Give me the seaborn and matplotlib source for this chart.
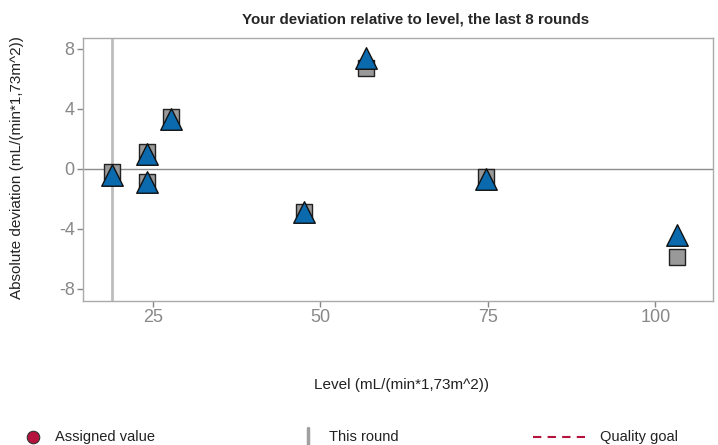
import matplotlib
matplotlib.use("Agg")
import matplotlib.pyplot as plt
import seaborn as sns
import pandas as pd
from matplotlib.lines import Line2D

# ---- data ----
level = [19.0, 24.1, 24.1, 27.7, 47.5, 56.8, 74.8, 103.2]
dev_square = [-0.2, 1.1, -0.85, 3.45, -2.85, 6.7, -0.55, -5.9]
dev_triangle = [-0.4, 1.0, -0.9, 3.3, -2.9, 7.4, -0.7, -4.4]
this_round_level = 19.0
x_ticks = [25, 50, 75, 100]
y_ticks = [-8, -4, 0, 4, 8]

title = "Your deviation relative to level, the last 8 rounds"
x_label = "Level (mL/(min*1,73m^2))"
y_label = "Absolute deviation (mL/(min*1,73m^2))"
legend_labels = ["Assigned value", "This round", "Quality goal"]

sns.set_style("white")
plt.rcParams['font.family'] = ['Liberation Sans', 'DejaVu Sans']
plt.rcParams['axes.unicode_minus'] = False

df = pd.DataFrame({"level": level, "sq": dev_square, "tri": dev_triangle})

fig = plt.figure(figsize=(7.18, 4.45), dpi=100)
ax = fig.add_axes([83/718, 1-301/445, (713-83)/718, (301-37.7)/445])

ax.axhline(0, color="#8c8c8c", lw=1.0, zorder=1)
ax.axvline(this_round_level, color="#bdbdbd", lw=2.0, zorder=1)

sns.scatterplot(data=df, x="level", y="sq", marker="s", s=135, color="#999999",
                edgecolor="#222222", linewidth=1.0, ax=ax, zorder=3)
sns.scatterplot(data=df, x="level", y="tri", marker="^", s=240, color="#0a6aad",
                edgecolor="#111111", linewidth=1.0, ax=ax, zorder=4)

ax.set_xlim(14.6, 108.6)
ax.set_ylim(-8.8, 8.75)
ax.set_xticks(x_ticks)
ax.set_yticks(y_ticks)
ax.tick_params(axis="both", colors="#888888", labelcolor="#888888", labelsize=13,
               length=4, width=1, direction="out", bottom=True, left=True, pad=2)
for sp in ax.spines.values():
    sp.set_color("#aaaaaa")
    sp.set_linewidth(1.0)
ax.set_xlabel("")
ax.set_ylabel("")

fig.text(416/718, 1-19/445, title, ha="center", va="center", fontsize=10.9, fontweight="bold")
fig.text(401/718, 1-385/445, x_label, ha="center", va="center", fontsize=11, color="#222222")
fig.text(17/718, 1-168/445, y_label, ha="center", va="center", rotation=90, fontsize=11, color="#222222")

ly = 1 - 437/445
fig.add_artist(Line2D([33/718], [ly], marker="o", markersize=9, color="#b5123e",
                      markeredgecolor="#333333", markeredgewidth=0.8, linestyle="none",
                      transform=fig.transFigure))
fig.text(55/718, ly, legend_labels[0], ha="left", va="center", fontsize=10.5, color="#222222")
fig.add_artist(Line2D([308/718, 308/718], [1-446/445, 1-428/445], color="#a0a0a0", lw=2.5,
                      transform=fig.transFigure))
fig.text(329/718, ly, legend_labels[1], ha="left", va="center", fontsize=10.5, color="#222222")
fig.add_artist(Line2D([533/718, 585/718], [ly, ly], color="#b5123e", lw=1.5, linestyle=(0, (4, 3)),
                      transform=fig.transFigure))
fig.text(600/718, ly, legend_labels[2], ha="left", va="center", fontsize=10.5, color="#222222")

fig.savefig("out.png", dpi=100)
